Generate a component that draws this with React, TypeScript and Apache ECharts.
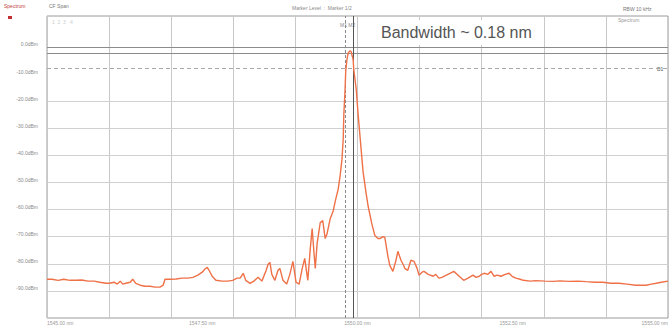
import React, { useEffect, useRef } from "react";
import * as echarts from "echarts";

// Wavelength (nm) of each trace point
const wavelengths = [
  1545.0, 1545.08, 1545.18, 1545.27, 1545.37, 1545.47, 1545.56, 1545.66, 1545.76, 1545.85,
  1545.95, 1546.01, 1546.08, 1546.13, 1546.18, 1546.22, 1546.27, 1546.34, 1546.38, 1546.43,
  1546.5, 1546.58, 1546.66, 1546.74, 1546.82, 1546.87, 1546.9, 1546.98, 1547.08, 1547.17,
  1547.27, 1547.35, 1547.43, 1547.5, 1547.54, 1547.58, 1547.61, 1547.66, 1547.72, 1547.82,
  1547.91, 1547.99, 1548.06, 1548.11, 1548.16, 1548.2, 1548.27, 1548.33, 1548.4, 1548.46,
  1548.53, 1548.56, 1548.59, 1548.62, 1548.67, 1548.72, 1548.75, 1548.8, 1548.86, 1548.91,
  1548.96, 1549.01, 1549.06, 1549.11, 1549.15, 1549.2, 1549.24, 1549.27, 1549.3, 1549.32,
  1549.35, 1549.4, 1549.44, 1549.48, 1549.51, 1549.56, 1549.61, 1549.64, 1549.69, 1549.72,
  1549.75, 1549.77, 1549.78, 1549.8, 1549.81, 1549.83, 1549.85, 1549.88, 1549.9, 1549.91,
  1549.93, 1549.94, 1549.98, 1550.01, 1550.04, 1550.09, 1550.14, 1550.17, 1550.23, 1550.28,
  1550.33, 1550.36, 1550.41, 1550.44, 1550.49, 1550.52, 1550.57, 1550.62, 1550.65, 1550.7,
  1550.75, 1550.76, 1550.81, 1550.86, 1550.91, 1550.96, 1550.99, 1551.04, 1551.07, 1551.14,
  1551.22, 1551.26, 1551.31, 1551.36, 1551.43, 1551.49, 1551.55, 1551.62, 1551.71, 1551.78,
  1551.86, 1551.91, 1551.96, 1552.0, 1552.04, 1552.1, 1552.15, 1552.2, 1552.25, 1552.31,
  1552.38, 1552.44, 1552.49, 1552.55, 1552.62, 1552.67, 1552.78, 1552.87, 1553.02, 1553.15,
  1553.26, 1553.41, 1553.55, 1553.68, 1553.82, 1553.95, 1554.08, 1554.21, 1554.34, 1554.48,
  1554.57, 1554.65, 1554.73, 1554.81, 1554.89, 1555.0,
];

// Measured power (dBm) at each wavelength
const powerDbm = [
  -85.7, -85.7, -86.1, -85.7, -86.1, -86.1, -86.0, -86.4, -86.4, -86.8,
  -87.2, -87.2, -86.8, -87.5, -86.4, -87.5, -87.2, -86.8, -85.7, -87.2,
  -87.9, -88.3, -88.3, -88.6, -88.6, -87.9, -85.7, -85.7, -85.6, -85.3,
  -85.3, -85.0, -84.2, -83.1, -82.0, -81.3, -82.4, -84.6, -86.1, -86.4,
  -86.4, -86.1, -85.3, -85.3, -83.5, -86.1, -87.2, -86.4, -85.0, -86.4,
  -82.4, -80.2, -79.5, -83.9, -86.1, -82.4, -81.7, -86.1, -87.5, -83.9,
  -79.1, -86.8, -87.5, -81.7, -78.0, -86.1, -74.3, -67.0, -76.2, -81.7,
  -72.5, -64.8, -64.1, -70.7, -68.9, -63.4, -60.4, -57.1, -52.4, -47.6,
  -41.4, -34.0, -24.9, -15.7, -9.1, -4.7, -2.2, -1.4, -1.8, -2.9,
  -4.7, -8.4, -15.7, -24.9, -32.9, -46.1, -54.2, -58.6, -65.2, -69.6,
  -70.7, -70.7, -70.0, -70.3, -77.3, -80.6, -82.8, -78.7, -75.4, -78.7,
  -80.9, -81.7, -82.4, -78.7, -79.1, -81.7, -84.2, -83.1, -82.8, -83.9,
  -84.6, -83.9, -85.3, -85.0, -84.2, -83.5, -82.8, -84.2, -86.1, -85.3,
  -84.2, -85.0, -84.6, -83.9, -83.5, -83.9, -82.8, -84.6, -84.2, -84.6,
  -83.9, -83.5, -84.6, -85.3, -85.7, -86.1, -86.4, -86.2, -86.4, -86.5,
  -86.3, -86.5, -86.4, -86.6, -86.8, -86.8, -87.2, -87.2, -87.5, -87.9,
  -87.9, -87.9, -87.5, -87.2, -86.8, -86.4,
];

// Horizontal grid levels (dBm) that are drawn
const gridLevels = [0, -20, -30, -40, -50, -60, -70, -80, -90];
const thresholdLine = -2.5;
const displayLine = -7.8;
const marker1 = 1549.81;
const marker2 = 1549.93;
const bandwidthText = "Bandwidth ~ 0.18 nm";

export default function App() {
  const ref = useRef<HTMLDivElement>(null);
  useEffect(() => {
    if (!ref.current) return;
    const chart = echarts.init(ref.current, undefined, { renderer: "svg" });
    const data = wavelengths.map((w, i) => [w, powerDbm[i]]);
    const gridMarks = gridLevels.map((v) => ({
      yAxis: v,
      lineStyle: { color: v === 0 ? "#8c8c8c" : "#d0d0d0", type: "solid", width: 1 },
    }));
    chart.setOption({
      animation: false,
      backgroundColor: "#ffffff",
      grid: {
        left: 47,
        right: 4,
        top: 16,
        bottom: 5,
        show: true,
        borderColor: "#9a9a9a",
        borderWidth: 1,
        backgroundColor: "transparent",
      },
      xAxis: [
        {
          type: "value",
          min: 1545,
          max: 1555,
          interval: 1,
          axisLine: { show: false },
          axisTick: { show: false },
          axisLabel: { show: false },
          splitLine: { show: true, lineStyle: { color: "#c8c8c8", width: 1 } },
        },
        {
          type: "value",
          min: 1545,
          max: 1555,
          interval: 2.5,
          position: "bottom",
          axisLine: { show: false },
          axisTick: { show: false },
          splitLine: { show: false },
          axisLabel: {
            show: true,
            fontSize: 5,
            color: "#999",
            margin: 2,
            alignMinLabel: "left",
            alignMaxLabel: "right",
            formatter: (v: number) => v.toFixed(2) + " nm",
          },
        },
      ],
      yAxis: {
        type: "value",
        min: -100,
        max: 11.4,
        interval: 10,
        axisLine: { show: false },
        axisTick: { show: false },
        splitLine: { show: false },
        axisLabel: {
          show: true,
          fontSize: 5,
          color: "#8a8a8a",
          margin: 9,
          verticalAlign: "bottom",
          formatter: (v: number) => (v > 0 || v <= -100 ? "" : v.toFixed(1) + "dBm"),
        },
      },
      series: [
        {
          type: "line",
          xAxisIndex: 0,
          data,
          showSymbol: false,
          symbol: "none",
          lineStyle: { color: "#ee7148", width: 1.4 },
          z: 5,
          markLine: {
            silent: true,
            symbol: "none",
            label: { show: false },
            z: 2,
            data: [
              ...gridMarks,
              { yAxis: thresholdLine, lineStyle: { color: "#8c8c8c", type: "solid", width: 1 } },
              { yAxis: displayLine, lineStyle: { color: "#a8a8a8", type: [4, 3], width: 1 } },
              { xAxis: marker1, lineStyle: { color: "#8a8a8a", type: [3, 2], width: 1 } },
              { xAxis: marker2, lineStyle: { color: "#555555", type: "solid", width: 1 } },
            ],
          },
        },
      ],
      graphic: [
        { type: "text", left: 4, top: 3, style: { text: "Spectrum", fontSize: 5, fill: "#c04040" } },
        { type: "rect", shape: { x: 8, y: 16, width: 4, height: 3 }, style: { fill: "#c03030" } },
        { type: "text", left: 49, top: 3, style: { text: "CF Span", fontSize: 5, fill: "#777" } },
        { type: "text", left: 52, top: 19, style: { text: "1  2  3   4", fontSize: 5, fill: "#ccc" } },
        { type: "text", left: 292, top: 5, style: { text: "Marker Level  :  Marker 1/2", fontSize: 5, fill: "#888" } },
        { type: "text", left: 623, top: 6, style: { text: "RBW 10 kHz", fontSize: 5, fill: "#777" } },
        { type: "text", left: 618, top: 17, style: { text: "Spectrum", fontSize: 5, fill: "#999" } },
        { type: "text", left: 340, top: 22, style: { text: "M1 M2", fontSize: 5, fill: "#888" } },
        { type: "text", left: 657, top: 66, style: { text: "D1", fontSize: 5, fill: "#555" } },
        {
          type: "rect",
          shape: { x: 372, y: 20, width: 172, height: 25 },
          style: { fill: "#ffffff" },
          z: 50,
        },
        {
          type: "text",
          left: 381,
          top: 24,
          z: 51,
          style: {
            text: bandwidthText,
            fontSize: 16,
            fontFamily: "Liberation Sans, Arial, sans-serif",
            fill: "#555555",
          },
        },
      ],
    });
    return () => chart.dispose();
  }, []);
  return (
    <div
      ref={ref}
      style={{ position: "fixed", left: 0, top: 0, width: 672, height: 325, background: "#fff" }}
    />
  );
}
